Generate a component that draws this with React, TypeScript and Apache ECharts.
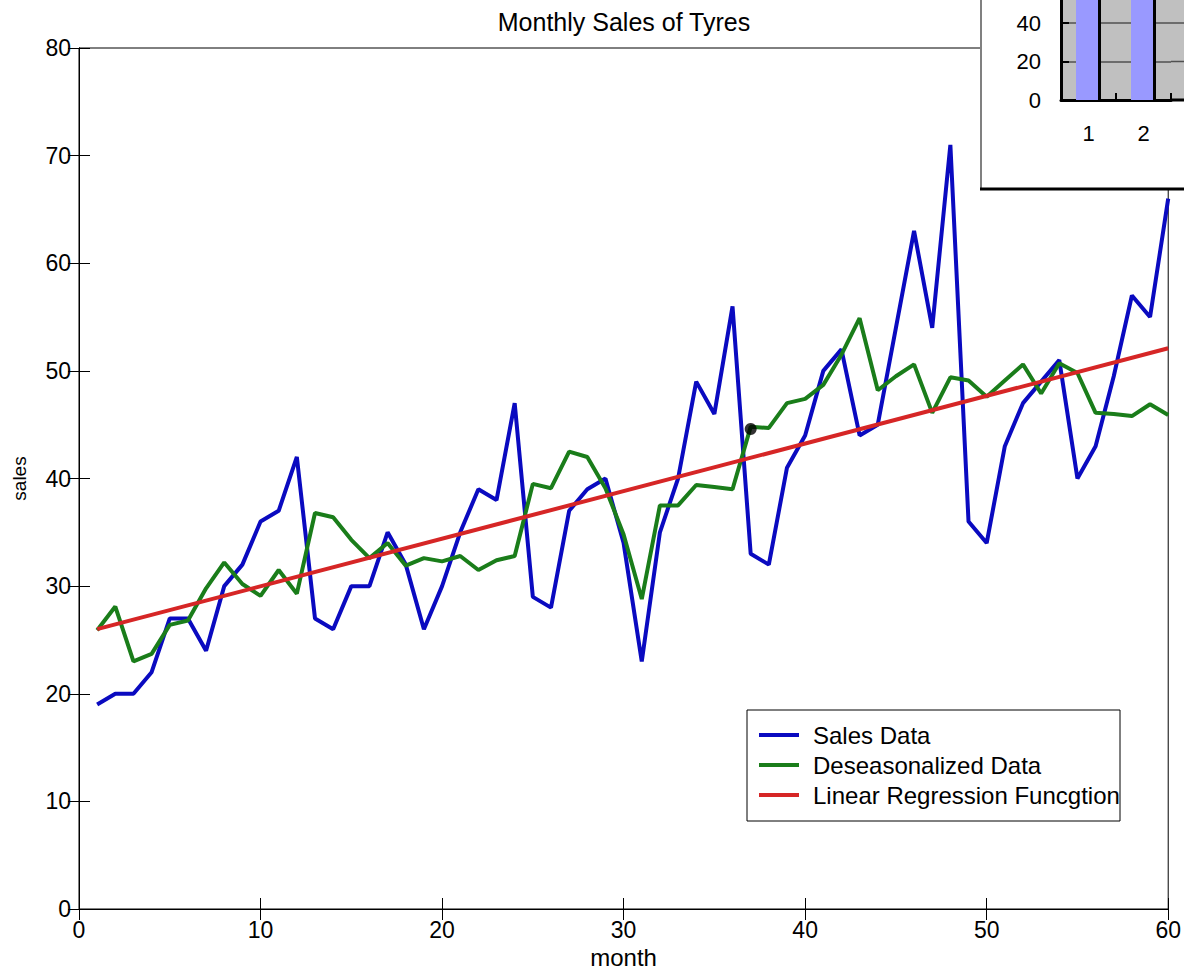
import React, { useEffect, useRef } from "react";
import * as echarts from "echarts";

const title = "Monthly Sales of Tyres";
const xAxisName = "month";
const yAxisName = "sales";
const seriesNames = ["Sales Data", "Deseasonalized Data", "Linear Regression Funcgtion"];

const months = [
  1, 2, 3, 4, 5, 6, 7, 8, 9, 10, 11, 12, 13, 14, 15, 16, 17, 18, 19, 20,
  21, 22, 23, 24, 25, 26, 27, 28, 29, 30, 31, 32, 33, 34, 35, 36, 37, 38, 39, 40,
  41, 42, 43, 44, 45, 46, 47, 48, 49, 50, 51, 52, 53, 54, 55, 56, 57, 58, 59, 60,
];

const salesData = [
  19, 20, 20, 22, 27, 27, 24, 30, 32, 36,
  37, 42, 27, 26, 30, 30, 35, 32, 26, 30,
  35, 39, 38, 47, 29, 28, 37, 39, 40, 34,
  23, 35, 40, 49, 46, 56, 33, 32, 41, 44,
  50, 52, 44, 45, 54, 63, 54, 71, 36, 34,
  43, 47, 49, 51, 40, 43, 49.5, 57, 55, 66,
];

const deseasonalizedData = [
  25.9, 28.1, 23.0, 23.7, 26.4, 26.8, 29.8, 32.2, 30.2, 29.1,
  31.5, 29.3, 36.8, 36.4, 34.3, 32.6, 34.0, 31.9, 32.6, 32.3,
  32.8, 31.5, 32.4, 32.8, 39.5, 39.1, 42.5, 42.0, 39.1, 34.8,
  28.8, 37.5, 37.5, 39.4, 39.2, 39.0, 44.8, 44.7, 47.0, 47.4,
  48.7, 51.5, 54.9, 48.2, 49.5, 50.6, 46.1, 49.4, 49.1, 47.6,
  49.1, 50.6, 47.9, 50.7, 49.8, 46.1, 46.0, 45.8, 46.9, 45.9,
];

const regressionMonths = [1, 60];
const regressionValues = [26.0, 52.1];

const markerPoint = [37, 44.6];

const xTicks = { min: 0, max: 60, interval: 10 };
const yTicks = { min: 0, max: 80, interval: 10 };

// inset bar chart (only its lower part is visible in the picture)
const insetCategories = ["1", "2"];
const insetBlueValues = [62, 62];
const insetBlackValues = [62, 62];
const insetTicks = { min: 0, max: 52, interval: 20 };

const FONT = "Arial, 'Liberation Sans', Helvetica, sans-serif";

export default function App() {
  const ref = useRef<HTMLDivElement>(null);

  useEffect(() => {
    document.body.style.margin = "0";
    const chart = echarts.init(ref.current!, null, { renderer: "svg" });

    const tickStyle = { color: "#000", width: 1 };

    const option: any = {
      animation: false,
      backgroundColor: "#ffffff",
      textStyle: { fontFamily: FONT },
      grid: [
        {
          left: 79,
          right: 15,
          top: 48,
          bottom: 66,
          show: true,
          borderColor: "#000",
          borderWidth: 1,
          backgroundColor: "#fff",
        },
        {
          left: 1061,
          top: 0,
          width: 110,
          height: 100,
          show: true,
          backgroundColor: "#c0c0c0",
          borderWidth: 0,
          z: 11,
        },
      ],
      xAxis: [
        {
          gridIndex: 0,
          type: "value",
          min: xTicks.min,
          max: xTicks.max,
          interval: xTicks.interval,
          axisLine: { show: true, lineStyle: { color: "#000", width: 1 } },
          axisTick: { show: true, inside: true, length: 11, lineStyle: tickStyle },
          axisLabel: { fontSize: 23, color: "#000", margin: 9, fontFamily: FONT },
          splitLine: { show: false },
          name: xAxisName,
          nameLocation: "middle",
          nameGap: 32,
          nameTextStyle: { fontSize: 24, color: "#000", fontFamily: FONT },
        },
        {
          gridIndex: 0,
          type: "value",
          position: "top",
          min: xTicks.min,
          max: xTicks.max,
          interval: xTicks.interval,
          axisLine: { show: true, lineStyle: { color: "#000", width: 1 } },
          axisTick: { show: true, inside: true, length: 11, lineStyle: tickStyle },
          axisLabel: { show: false },
          splitLine: { show: false },
        },
        {
          gridIndex: 1,
          type: "category",
          data: insetCategories,
          z: 12,
          axisLine: { show: true, lineStyle: { color: "#000", width: 3 } },
          axisTick: { show: true, inside: true, length: 7, lineStyle: { color: "#000", width: 2 } },
          axisLabel: { fontSize: 22, color: "#000", margin: 22, fontFamily: FONT },
          splitLine: { show: false },
        },
      ],
      yAxis: [
        {
          gridIndex: 0,
          type: "value",
          min: yTicks.min,
          max: yTicks.max,
          interval: yTicks.interval,
          axisLine: { show: true, lineStyle: { color: "#000", width: 1 } },
          axisTick: { show: true, inside: true, length: 11, lineStyle: tickStyle },
          axisLabel: { fontSize: 23, color: "#000", margin: 8, fontFamily: FONT },
          splitLine: { show: false },
          name: yAxisName,
          nameLocation: "middle",
          nameGap: 50,
          nameTextStyle: { fontSize: 19, color: "#000", fontFamily: FONT },
        },
        {
          gridIndex: 0,
          type: "value",
          position: "right",
          min: yTicks.min,
          max: yTicks.max,
          interval: yTicks.interval,
          axisLine: { show: true, lineStyle: { color: "#000", width: 1 } },
          axisTick: { show: true, inside: true, length: 11, lineStyle: tickStyle },
          axisLabel: { show: false },
          splitLine: { show: false },
        },
        {
          gridIndex: 1,
          type: "value",
          min: insetTicks.min,
          max: insetTicks.max,
          interval: insetTicks.interval,
          z: 12,
          axisLine: { show: true, lineStyle: { color: "#000", width: 3 } },
          axisTick: { show: true, inside: true, length: 8, lineStyle: { color: "#000", width: 2 } },
          axisLabel: { fontSize: 22, color: "#000", margin: 20, fontFamily: FONT, showMaxLabel: false },
          splitLine: { show: true, showMaxLine: false, lineStyle: { color: "#505050", width: 1.5 } },
        },
      ],
      legend: {
        data: seriesNames,
        orient: "vertical",
        left: 759,
        top: 723,
        padding: 0,
        itemWidth: 40,
        itemHeight: 4,
        itemGap: 6,
        icon: "rect",
        z: 6,
        textStyle: { fontSize: 24, color: "#000", fontFamily: FONT, padding: [0, 0, 0, 9] },
      },
      graphic: [
        {
          type: "text",
          x: 624,
          y: 22,
          z: 20,
          style: {
            text: title,
            fontSize: 25,
            fontFamily: FONT,
            fill: "#000",
            textAlign: "center",
            textVerticalAlign: "middle",
          },
        },
        {
          type: "rect",
          z: 5,
          shape: { x: 747, y: 710, width: 373, height: 111 },
          style: { fill: "#fff", stroke: "#000", lineWidth: 1 },
        },
        {
          type: "rect",
          z: 10,
          shape: { x: 981, y: -10, width: 220, height: 199 },
          style: { fill: "#fff", stroke: null },
        },
        {
          type: "rect",
          z: 10,
          shape: { x: 1171, y: 0, width: 20, height: 100 },
          style: { fill: "#c0c0c0", stroke: null },
        },
        {
          type: "line",
          z: 10,
          shape: { x1: 1171, y1: 23, x2: 1190, y2: 23 },
          style: { stroke: "#505050", lineWidth: 1.5 },
        },
        {
          type: "line",
          z: 10,
          shape: { x1: 1171, y1: 61.5, x2: 1190, y2: 61.5 },
          style: { stroke: "#505050", lineWidth: 1.5 },
        },
        {
          type: "line",
          z: 10,
          shape: { x1: 1168, y1: 100, x2: 1190, y2: 100 },
          style: { stroke: "#000", lineWidth: 3 },
        },
        {
          type: "line",
          z: 10,
          shape: { x1: 981, y1: -5, x2: 981, y2: 189 },
          style: { stroke: "#808080", lineWidth: 2 },
        },
        {
          type: "line",
          z: 10,
          shape: { x1: 980, y1: 189, x2: 1190, y2: 189 },
          style: { stroke: "#000", lineWidth: 3 },
        },
      ],
      series: [
        {
          name: seriesNames[0],
          type: "line",
          xAxisIndex: 0,
          yAxisIndex: 0,
          data: months.map((m, i) => [m, salesData[i]]),
          symbol: "none",
          color: "#0a0ac0",
          lineStyle: { width: 4, color: "#0a0ac0" },
          z: 2,
        },
        {
          name: seriesNames[1],
          type: "line",
          xAxisIndex: 0,
          yAxisIndex: 0,
          data: months.map((m, i) => [m, deseasonalizedData[i]]),
          symbol: "none",
          color: "#1a7d1a",
          lineStyle: { width: 4, color: "#1a7d1a" },
          z: 2,
        },
        {
          name: seriesNames[2],
          type: "line",
          xAxisIndex: 0,
          yAxisIndex: 0,
          data: regressionMonths.map((m, i) => [m, regressionValues[i]]),
          symbol: "none",
          color: "#d62626",
          lineStyle: { width: 4, color: "#d62626" },
          z: 3,
        },
        {
          name: "marker",
          type: "scatter",
          xAxisIndex: 0,
          yAxisIndex: 0,
          data: [markerPoint],
          symbol: "circle",
          symbolSize: 12,
          itemStyle: { color: "#000" },
          z: 4,
        },
        {
          name: "inset-a",
          type: "bar",
          xAxisIndex: 2,
          yAxisIndex: 2,
          data: insetBlueValues,
          barWidth: 22,
          barGap: "0%",
          itemStyle: { color: "#9999ff" },
          z: 13,
        },
        {
          name: "inset-b",
          type: "bar",
          xAxisIndex: 2,
          yAxisIndex: 2,
          data: insetBlackValues,
          barWidth: 3,
          barGap: "0%",
          itemStyle: { color: "#000" },
          z: 13,
        },
      ],
    };

    chart.setOption(option);
    return () => chart.dispose();
  }, []);

  return <div ref={ref} style={{ width: 1184, height: 975, background: "#fff" }} />;
}
